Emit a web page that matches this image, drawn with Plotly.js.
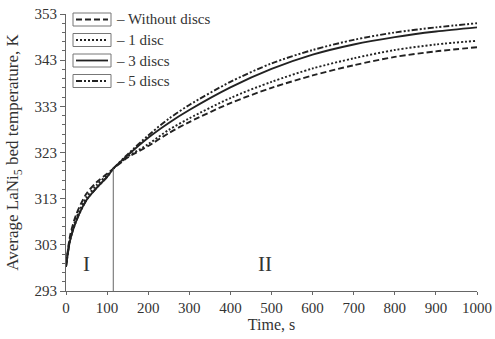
<!DOCTYPE html>
<html>
<head>
<meta charset="utf-8">
<script src="https://cdn.plot.ly/plotly-3.0.1.min.js"></script>
<style>html,body{margin:0;padding:0;background:#fff;}#chart{width:495px;height:339px;}</style>
</head>
<body>
<div id="chart"></div>
<script>
const time = [0, 10, 25, 50, 75, 100, 115, 150, 200, 250, 300, 400, 500, 600, 700, 800, 900, 1000];
const withoutDiscs = [298.5, 305.0, 309.6, 314.1, 316.6, 318.4, 319.5, 321.9, 324.4, 327.2, 329.6, 333.7, 337.0, 339.7, 341.9, 343.7, 344.9, 345.8];
const oneDisc = [298.3, 304.5, 308.8, 313.3, 316.0, 318.1, 319.5, 322.1, 324.8, 327.9, 330.4, 334.8, 338.3, 341.2, 343.4, 345.2, 346.4, 347.2];
const threeDiscs = [298.2, 304.0, 308.2, 312.7, 315.4, 317.7, 319.5, 322.4, 326.2, 329.4, 332.2, 337.1, 341.1, 344.2, 346.4, 348.0, 349.2, 350.1];
const fiveDiscs = [298.2, 304.0, 308.2, 312.7, 315.4, 317.7, 319.5, 322.6, 326.7, 330.3, 333.3, 338.3, 342.3, 345.2, 347.4, 349.0, 350.1, 351.0];
const seriesNames = ['– Without discs', '– 1 disc', '– 3 discs', '– 5 discs'];
const regionBoundary = [115, 319.5];
const regionLabels = ['I', 'II'];
const regionLabelX = [50, 485];
const regionLabelY = 298.8;

const dashes = ['6px,3px', '2px,2px', 'solid', '6px,2px,2px,2px,2px,2px'];
const col = '#222';
const seriesData = [withoutDiscs, oneDisc, threeDiscs, fiveDiscs];
const traces = seriesData.map((ys, i) => ({
  x: time, y: ys, type: 'scatter', mode: 'lines', name: seriesNames[i], showlegend: false,
  line: {color: col, width: 1.9, dash: dashes[i], shape: 'spline', smoothing: 0.8}
}));

// plot area in pixels: left 66, right 477, top 14, bottom 291
const PL = 66, PW = 411, PB = 291, PH = 277;
const px = v => (v - PL) / PW;
const py = v => (PB - v) / PH;
const rowY = [19.5, 40, 60.5, 81];

const font = {family: 'Liberation Serif, Times New Roman, serif', color: '#333'};
const shapes = [{type: 'line', xref: 'x', yref: 'y', x0: regionBoundary[0], x1: regionBoundary[0],
  y0: 293, y1: regionBoundary[1], line: {color: '#666', width: 1}}];
const annotations = regionLabels.map((t, i) => ({x: regionLabelX[i], y: regionLabelY, xref: 'x', yref: 'y',
  text: t, showarrow: false, font: Object.assign({size: 21}, font)}));
seriesNames.forEach((n, i) => {
  shapes.push({type: 'rect', xref: 'paper', yref: 'paper', x0: px(73), x1: px(111),
    y0: py(rowY[i] + 6.5), y1: py(rowY[i] - 6.5), line: {color: '#777', width: 1}, fillcolor: 'rgba(0,0,0,0)'});
  shapes.push({type: 'line', xref: 'paper', yref: 'paper', x0: px(76), x1: px(108),
    y0: py(rowY[i]), y1: py(rowY[i]), line: {color: col, width: 1.8, dash: dashes[i]}});
  annotations.push({x: px(114), y: py(rowY[i]), xref: 'paper', yref: 'paper', xanchor: 'left', yanchor: 'middle',
    text: n, showarrow: false, font: Object.assign({size: 15}, font)});
});

const layout = {
  width: 495, height: 339,
  margin: {l: 66, r: 18, t: 14, b: 48},
  paper_bgcolor: '#fff', plot_bgcolor: '#fff',
  font: Object.assign({size: 15}, font),
  showlegend: false,
  xaxis: {range: [0, 1000], dtick: 100, tick0: 0, showgrid: false, zeroline: false,
    showline: true, linecolor: '#666', linewidth: 1, ticks: 'outside', ticklen: 3, tickcolor: '#666',
    tickfont: Object.assign({size: 15}, font),
    title: {text: 'Time, s', font: Object.assign({size: 16}, font), standoff: 3}},
  yaxis: {range: [293, 353], dtick: 10, tick0: 293, showgrid: false, zeroline: false,
    showline: true, linecolor: '#666', linewidth: 1, ticks: 'outside', ticklen: 5, tickcolor: '#666',
    minor: {dtick: 2, tick0: 293, ticks: 'outside', ticklen: 3, tickcolor: '#666', showgrid: false},
    tickfont: Object.assign({size: 15}, font),
    title: {text: 'Average LaNi<sub>5</sub> bed temperature, K', font: Object.assign({size: 17}, font), standoff: 11}},
  shapes: shapes,
  annotations: annotations
};
Plotly.newPlot('chart', traces, layout, {displayModeBar: false, staticPlot: true});
</script>
</body>
</html>
